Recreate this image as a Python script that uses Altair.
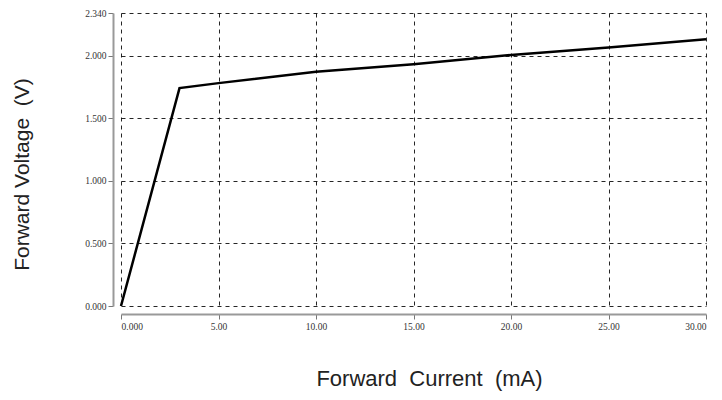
import altair as alt
import pandas as pd

current_mA = [0.0, 3.0, 5.0, 10.0, 15.0, 20.0, 25.0, 30.0]
voltage_V = [0.0, 1.74, 1.78, 1.87, 1.93, 2.005, 2.065, 2.13]
x_ticks = [0, 5, 10, 15, 20, 25, 30]
y_ticks = [0, 0.5, 1.0, 1.5, 2.0, 2.34]
x_title = "Forward\u00a0\u00a0Current\u00a0\u00a0(mA)"
y_title = "Forward\u00a0Voltage\u00a0\u00a0(V)"

df = pd.DataFrame({"current": current_mA, "voltage": voltage_V})

label_font = "Liberation Serif"

chart = alt.Chart(df).mark_line(color="black", strokeWidth=2.5).encode(
    x=alt.X("current:Q",
            scale=alt.Scale(domain=[0, 30], nice=False, zero=False),
            axis=alt.Axis(values=x_ticks,
                          labelExpr="datum.value == 0 ? '0.000' : format(datum.value, '.2f')",
                          title=x_title,
                          offset=8, grid=True, gridDash=[4, 4], gridColor="black",
                          gridOpacity=0.85, gridWidth=1,
                          domainColor="#999999", domainWidth=2,
                          tickColor="#777777", tickSize=5, labelPadding=2,
                          labelFont=label_font, labelFontSize=9.5, labelColor="#333333",
                          titleFont="Liberation Sans", titleFontSize=22,
                          titleFontWeight="normal", titleColor="#222222",
                          titleX=308, titleY=71, titleBaseline="alphabetic",
                          titleAlign="center")),
    y=alt.Y("voltage:Q",
            scale=alt.Scale(domain=[0, 2.34], nice=False, zero=False),
            axis=alt.Axis(values=y_ticks, format=".3f", title=y_title,
                          offset=8, grid=True, gridDash=[4, 4], gridColor="black",
                          gridOpacity=0.85, gridWidth=1,
                          domainColor="#999999", domainWidth=2,
                          tickColor="#777777", tickSize=5, labelPadding=2,
                          labelFont=label_font, labelFontSize=9.5, labelColor="#333333",
                          titleFont="Liberation Sans", titleFontSize=21,
                          titleFontWeight="normal", titleColor="#222222",
                          titleX=-91, titleY=161, titleBaseline="middle",
                          titleAlign="center", titleAngle=270)),
).properties(
    width=585, height=293,
    autosize=alt.AutoSizeParams(type="none"),
    padding={"left": 113, "top": 5, "right": 8, "bottom": 90},
).configure_view(stroke=None)

chart.save("out.html", embed_options={"renderer": "svg", "actions": False})
